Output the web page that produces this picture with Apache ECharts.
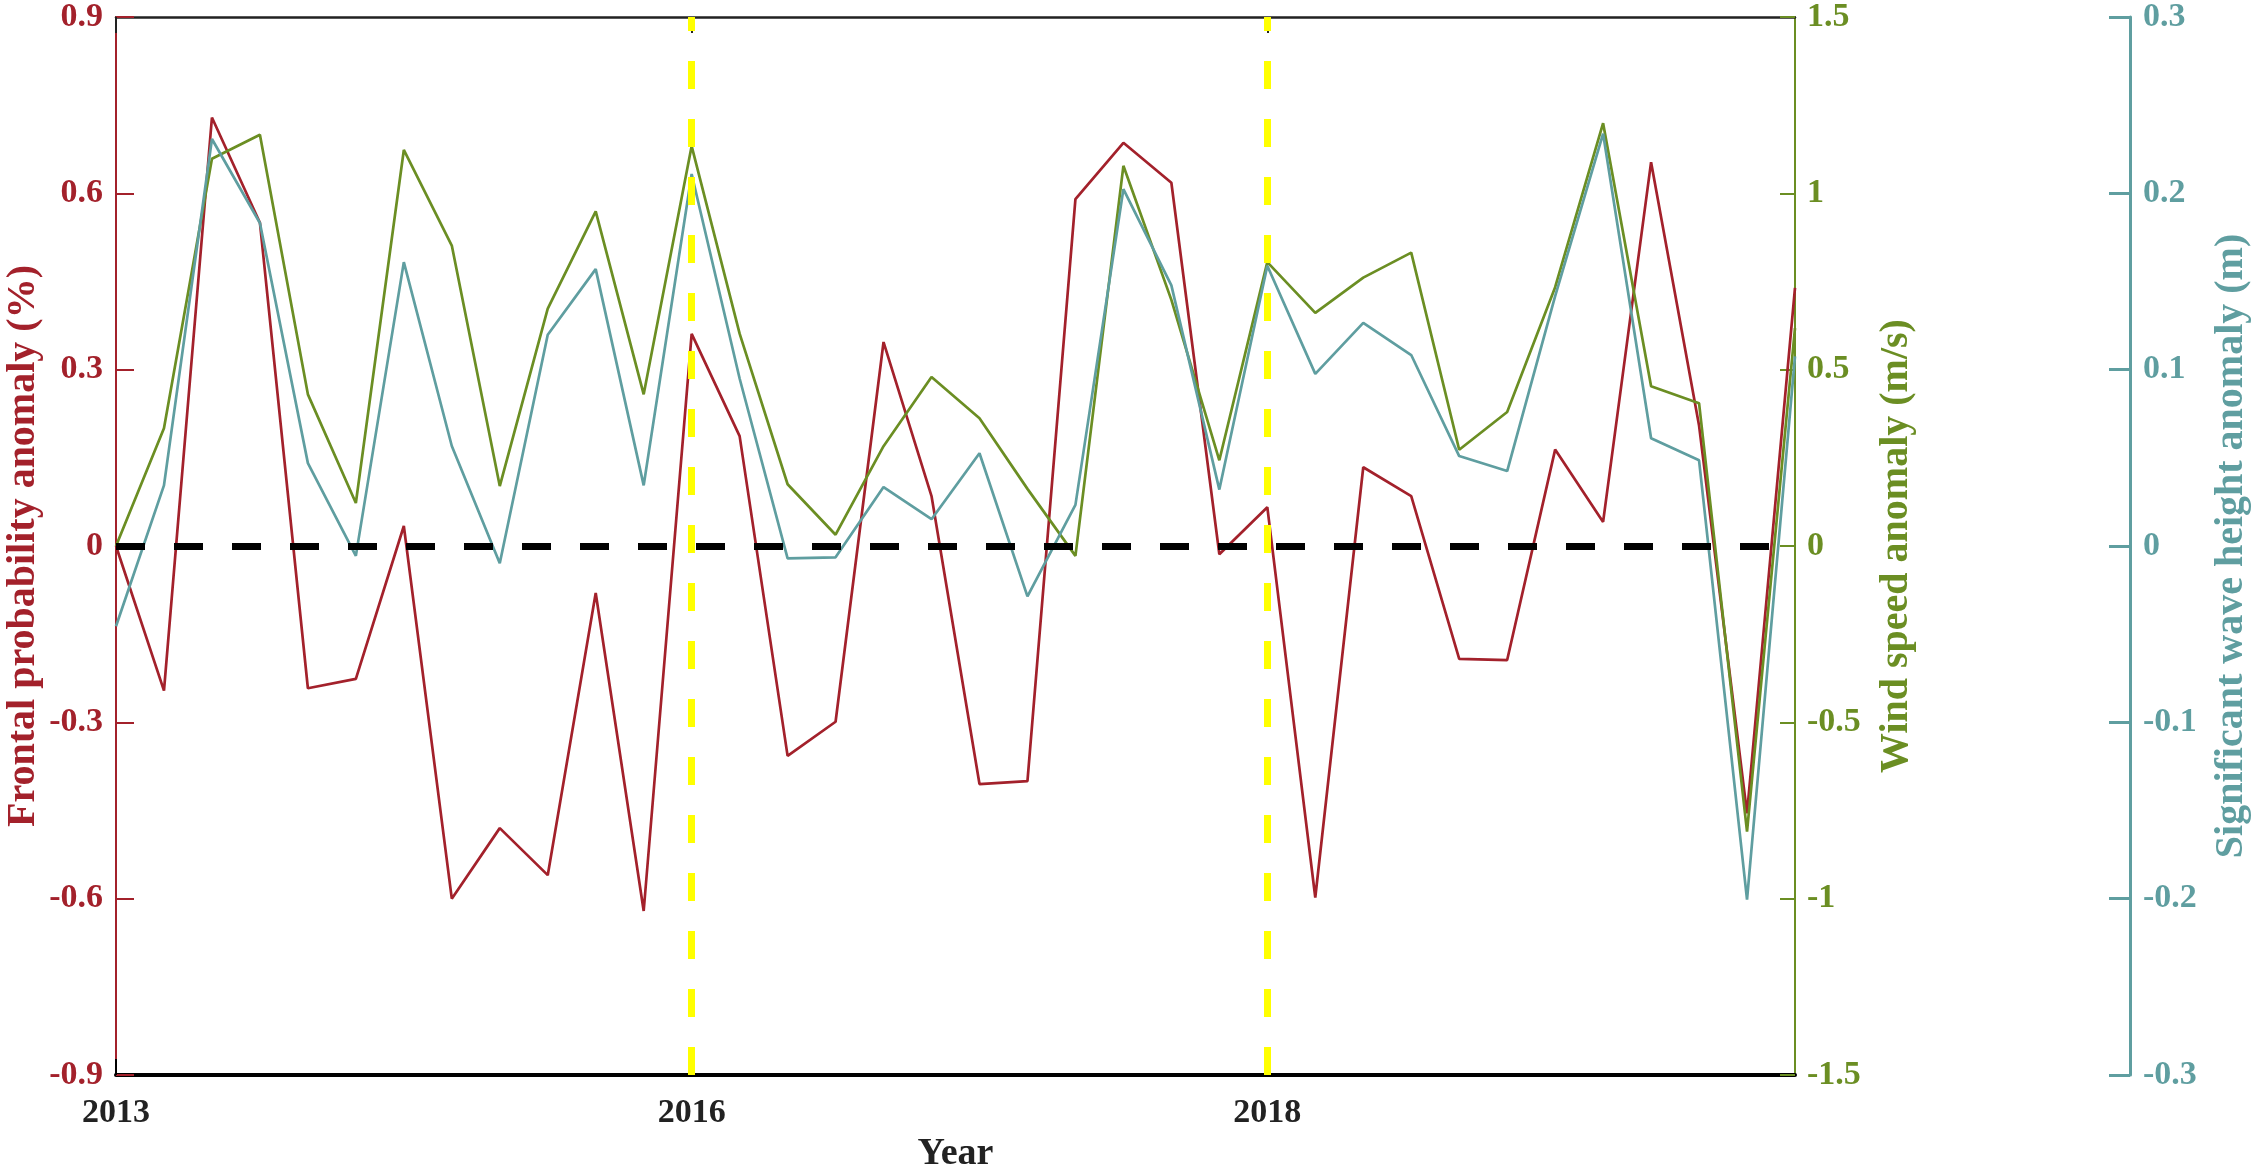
<!DOCTYPE html>
<html>
<head>
<meta charset="utf-8">
<script src="https://cdn.jsdelivr.net/npm/echarts@6/dist/echarts.min.js"></script>
<style>
html,body{margin:0;padding:0;background:#fff;}
#chart{width:2258px;height:1171px;}
</style>
</head>
<body>
<div id="chart"></div>
<script>
// x positions (36 periods); year labels at selected indices
const periods = Array.from({length: 36}, (_, i) => String(i));
const yearTickIdx = [0, 12, 24];
const yearTickLabels = ['2013', '2016', '2018'];
const markedIdx = [12, 24];

// Frontal probability anomaly (%)
const frontal = [0.0, -0.246, 0.729, 0.55, -0.242, -0.226, 0.034, -0.60, -0.48, -0.56,
  -0.08, -0.621, 0.361, 0.187, -0.357, -0.299, 0.347, 0.085, -0.405, -0.40,
  0.590, 0.686, 0.618, -0.014, 0.066, -0.598, 0.134, 0.085, -0.192, -0.194,
  0.164, 0.041, 0.653, 0.205, -0.455, 0.439];
// Wind speed anomaly (m/s)
const wind = [0.0, 0.334, 1.098, 1.166, 0.43, 0.122, 1.123, 0.852, 0.17, 0.673,
  0.949, 0.43, 1.134, 0.602, 0.175, 0.032, 0.283, 0.479, 0.362, 0.162,
  -0.028, 1.078, 0.698, 0.243, 0.805, 0.661, 0.761, 0.832, 0.273, 0.380,
  0.734, 1.199, 0.453, 0.405, -0.81, 0.618];
// Significant wave height anomaly (m)
const wave = [-0.0455, 0.0344, 0.2308, 0.1832, 0.047, -0.0056, 0.161, 0.0567, -0.0098, 0.1198,
  0.157, 0.0344, 0.211, 0.095, -0.007, -0.0064, 0.0334, 0.0152, 0.0526, -0.0286,
  0.0233, 0.2024, 0.1478, 0.032, 0.1589, 0.0976, 0.1265, 0.1083, 0.051, 0.0425,
  0.1417, 0.2338, 0.0611, 0.0486, -0.2006, 0.1076];

const RED = '#A3212B', GREEN = '#6B8E23', TEAL = '#5F9EA0';
const FONT = '"Liberation Serif","Times New Roman",serif';

function isYearTick(idx){ return yearTickIdx.indexOf(idx) >= 0; }
function yearLabel(v, idx){ const k = yearTickIdx.indexOf(idx); return k >= 0 ? yearTickLabels[k] : ''; }

const chart = echarts.init(document.getElementById('chart'), null, {renderer: 'canvas'});
const tickFont = {fontFamily: FONT, fontWeight: 'bold', fontSize: 34};

chart.setOption({
  animation: false,
  backgroundColor: '#fff',
  grid: {left: 116, right: 463, top: 17, bottom: 96, containLabel: false, outerBoundsMode: 'none'},
  xAxis: [{
    type: 'category', data: periods, boundaryGap: false, position: 'bottom',
    axisLine: {onZero: false, lineStyle: {color: '#000', width: 4}},
    axisTick: {inside: true, length: 16, interval: (i) => isYearTick(i), lineStyle: {color: '#000', width: 2}},
    axisLabel: Object.assign({interval: (i) => isYearTick(i), formatter: yearLabel, color: '#222', margin: 21}, tickFont),
    splitLine: {show: false},
    name: 'Year', nameLocation: 'middle', nameGap: 60, nameMoveOverlap: false,
    nameTextStyle: {fontFamily: FONT, fontWeight: 'bold', fontSize: 38, color: '#222'}
  }, {
    type: 'category', data: periods, boundaryGap: false, position: 'top',
    axisLine: {onZero: false, lineStyle: {color: '#222', width: 2.5}},
    axisTick: {inside: true, length: 16, interval: (i) => isYearTick(i), lineStyle: {color: '#222', width: 2}},
    axisLabel: {show: false}, splitLine: {show: false}
  }],
  yAxis: [{
    type: 'value', position: 'left', min: -0.9, max: 0.9, interval: 0.3,
    axisLine: {show: true, onZero: false, lineStyle: {color: RED, width: 2}},
    axisTick: {show: true, inside: true, length: 18, lineStyle: {color: RED, width: 2}},
    axisLabel: Object.assign({color: RED, margin: 13, formatter: (v) => String(Math.round(v * 10) / 10)}, tickFont),
    splitLine: {show: false},
    name: 'Frontal probability anomaly (%)', nameLocation: 'middle', nameGap: 72, nameRotate: 90, nameMoveOverlap: false,
    nameTextStyle: {fontFamily: FONT, fontWeight: 'bold', fontSize: 40, color: RED}
  }, {
    type: 'value', position: 'right', min: -1.5, max: 1.5, interval: 0.5,
    axisLine: {show: true, onZero: false, lineStyle: {color: GREEN, width: 2}},
    axisTick: {show: true, inside: true, length: 15, lineStyle: {color: GREEN, width: 2}},
    axisLabel: Object.assign({color: GREEN, margin: 12, formatter: (v) => String(Math.round(v * 10) / 10)}, tickFont),
    splitLine: {show: false},
    name: 'Wind speed anomaly (m/s)', nameLocation: 'middle', nameGap: 82, nameRotate: 90, nameMoveOverlap: false,
    nameTextStyle: {fontFamily: FONT, fontWeight: 'bold', fontSize: 40, color: GREEN}
  }, {
    type: 'value', position: 'right', offset: 335, min: -0.3, max: 0.3, interval: 0.1,
    axisLine: {show: true, onZero: false, lineStyle: {color: TEAL, width: 3}},
    axisTick: {show: true, inside: true, length: 21, lineStyle: {color: TEAL, width: 3}},
    axisLabel: Object.assign({color: TEAL, margin: 13, formatter: (v) => String(Math.round(v * 10) / 10)}, tickFont),
    splitLine: {show: false},
    name: 'Significant wave height anomaly (m)', nameLocation: 'middle', nameGap: 82, nameRotate: 90, nameMoveOverlap: false,
    nameTextStyle: {fontFamily: FONT, fontWeight: 'bold', fontSize: 40, color: TEAL}
  }],
  series: [{
    name: 'Frontal', type: 'line', xAxisIndex: 0, yAxisIndex: 0, data: frontal,
    showSymbol: false, symbol: 'none', lineStyle: {color: RED, width: 2.7}, itemStyle: {color: RED}, z: 2
  }, {
    name: 'Wind', type: 'line', xAxisIndex: 0, yAxisIndex: 1, data: wind,
    showSymbol: false, symbol: 'none', lineStyle: {color: GREEN, width: 2.7}, itemStyle: {color: GREEN}, z: 2
  }, {
    name: 'Wave', type: 'line', xAxisIndex: 0, yAxisIndex: 2, data: wave,
    showSymbol: false, symbol: 'none', lineStyle: {color: TEAL, width: 2.7}, itemStyle: {color: TEAL}, z: 2
  }, {
    name: 'refs', type: 'line', xAxisIndex: 0, yAxisIndex: 0, data: [], z: 5,
    markLine: {
      silent: true, symbol: ['none', 'none'], label: {show: false}, animation: false,
      emphasis: {disabled: true},
      data: [
        {yAxis: 0, lineStyle: {color: '#000', width: 7, type: [29, 29]}},
        ...markedIdx.map(i => ({xAxis: periods[i], lineStyle: {color: '#FFFF00', width: 7, type: [28, 30]}}))
      ]
    }
  }]
});
</script>
</body>
</html>
